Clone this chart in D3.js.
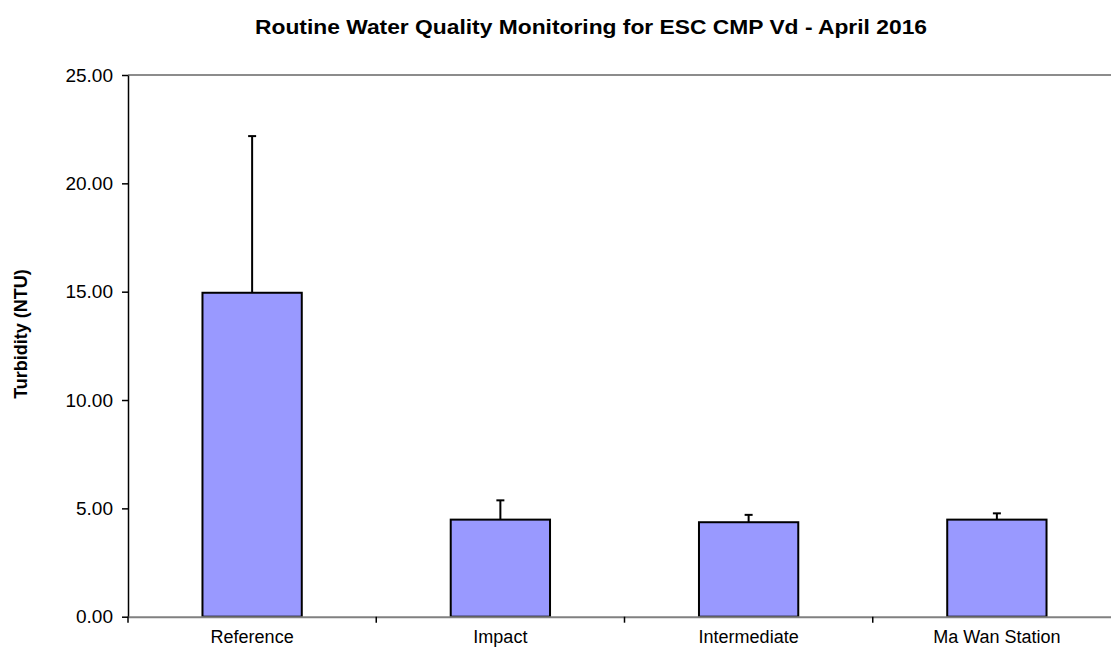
<!DOCTYPE html>
<html>
<head>
<meta charset="utf-8">
<script src="https://cdn.jsdelivr.net/npm/d3@7"></script>
<style>
  body { margin: 0; background: #fff; }
  svg { display: block; font-family: Arial, "Liberation Sans", sans-serif; }
</style>
</head>
<body>
<svg id="chart"></svg>
<script>
const categories = ["Reference", "Impact", "Intermediate", "Ma Wan Station"];
const means = [14.95, 4.48, 4.36, 4.48];
const errorTops = [22.18, 5.37, 4.70, 4.77];
const yTicks = [0, 5, 10, 15, 20, 25];

const width = 1111, height = 650;
const margin = { top: 75, right: -10, bottom: 33.3, left: 128 };
const font = "Arial, 'Liberation Sans', sans-serif";

const svg = d3.select("#chart")
  .attr("width", width)
  .attr("height", height);

const x = d3.scaleBand()
  .domain(categories)
  .range([margin.left, width - margin.right])
  .padding(0);

const y = d3.scaleLinear()
  .domain([0, 25])
  .range([height - margin.bottom, margin.top]);

const barW = x.bandwidth() * 0.4;

// Title
svg.append("text")
  .attr("x", 591)
  .attr("y", 34)
  .attr("text-anchor", "middle")
  .attr("textLength", 672)
  .attr("lengthAdjust", "spacingAndGlyphs")
  .style("font-size", "20px")
  .style("font-weight", "bold")
  .text("Routine Water Quality Monitoring for ESC CMP Vd - April 2016");

// Top gridline
svg.append("line")
  .attr("x1", margin.left).attr("x2", width)
  .attr("y1", y(25)).attr("y2", y(25))
  .attr("stroke", "#8c8c8c")
  .attr("stroke-width", 2);

// Bars
svg.append("g")
  .selectAll("rect")
  .data(categories)
  .join("rect")
  .attr("x", (d) => x(d) + (x.bandwidth() - barW) / 2)
  .attr("y", (d, i) => y(means[i]))
  .attr("width", barW)
  .attr("height", (d, i) => y(0) - y(means[i]))
  .attr("fill", "#9999ff")
  .attr("stroke", "#000")
  .attr("stroke-width", 2);

// Error bars
const err = svg.append("g")
  .attr("stroke", "#000")
  .attr("stroke-width", 2);

categories.forEach((c, i) => {
  const cx = x(c) + x.bandwidth() / 2;
  err.append("line")
    .attr("x1", cx).attr("x2", cx)
    .attr("y1", y(means[i])).attr("y2", y(errorTops[i]));
  err.append("line")
    .attr("x1", cx - 4).attr("x2", cx + 4)
    .attr("y1", y(errorTops[i])).attr("y2", y(errorTops[i]));
});

// Y axis
const yAxis = svg.append("g")
  .attr("transform", `translate(${margin.left},0)`)
  .call(d3.axisLeft(y).tickValues(yTicks).tickFormat(d3.format(".2f")).tickSize(6).tickSizeOuter(0));
yAxis.select(".domain").attr("stroke", "#000").attr("stroke-width", 1.5);
yAxis.selectAll(".tick line").attr("stroke", "#000").attr("stroke-width", 1.5);
yAxis.selectAll("text")
  .attr("x", -15)
  .attr("fill", "#000")
  .style("font-size", "19px")
  .style("font-family", font);

// X axis
const xAxis = svg.append("g")
  .attr("transform", `translate(0,${y(0)})`)
  .call(d3.axisBottom(x).tickSize(0).tickSizeOuter(0));
xAxis.select(".domain").attr("stroke", "#808080").attr("stroke-width", 2);
xAxis.selectAll("text")
  .attr("y", 14)
  .attr("fill", "#000")
  .style("font-size", "18px")
  .style("font-family", font);

// Category separator ticks
svg.append("g")
  .selectAll("line")
  .data(categories)
  .join("line")
  .attr("x1", (d) => x(d)).attr("x2", (d) => x(d))
  .attr("y1", y(0)).attr("y2", y(0) + 6)
  .attr("stroke", "#000")
  .attr("stroke-width", 1.5);

// Y axis title
svg.append("text")
  .attr("transform", `translate(27,${334}) rotate(-90)`)
  .attr("text-anchor", "middle")
  .style("font-size", "18px")
  .style("font-weight", "bold")
  .text("Turbidity (NTU)");
</script>
</body>
</html>
